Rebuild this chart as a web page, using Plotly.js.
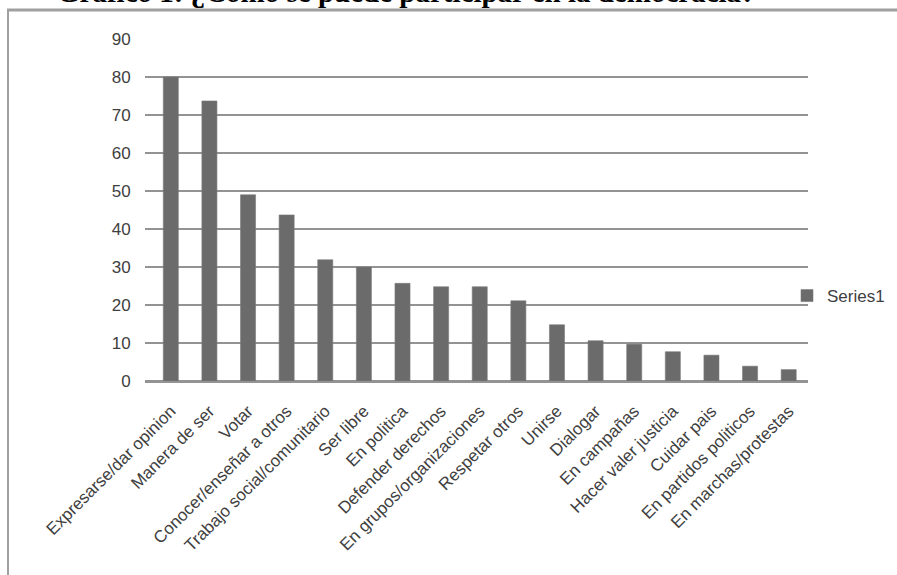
<!DOCTYPE html>
<html>
<head>
<meta charset="utf-8">
<script src="https://cdn.plot.ly/plotly-3.0.1.min.js"></script>
<style>html,body{margin:0;padding:0;background:#fff;}#chart{width:897px;height:575px;}</style>
</head>
<body>
<div id="chart"></div>
<script>
var categories = ["Expresarse/dar opinion","Manera de ser","Votar","Conocer/enseñar a otros","Trabajo social/comunitario","Ser libre","En politica","Defender derechos","En grupos/organizaciones","Respetar otros","Unirse","Dialogar","En campañas","Hacer valer justicia","Cuidar pais","En partidos politicos","En marchas/protestas"];
var series1 = [80, 73.7, 49, 43.7, 31.9, 30, 25.7, 24.8, 24.8, 21.1, 14.8, 10.6, 9.7, 7.7, 6.8, 3.9, 3.0];
var yTicks = [0,10,20,30,40,50,60,70,80,90];
var seriesName = "Series1";
var titleText = "Gráfico 1: ¿Cómo se puede participar en la democracia?";

var W = 897, H = 575, L = 145, R = 89, T = 39, B = 194;
var pw = W - L - R, ph = H - T - B;
function px(x){ return (x - L) / pw; }
function py(y){ return (H - B - y) / ph; }

var trace = {
  type: 'bar', x: categories, y: series1, name: seriesName,
  marker: {color: '#6b6b6b', line: {color: '#7a7a7a', width: 0.6}},
  showlegend: true
};

var layout = {
  width: W, height: H,
  margin: {l: L, r: R, t: T, b: B, pad: 0, autoexpand: false},
  paper_bgcolor: '#ffffff', plot_bgcolor: '#ffffff',
  bargap: 0.61,
  showlegend: true,
  legend: {x: px(787), y: py(296), xanchor: 'left', yanchor: 'middle',
    font: {family: 'Liberation Sans, Arial, sans-serif', size: 17, color: '#404040'},
    bgcolor: 'rgba(0,0,0,0)', borderwidth: 0},
  xaxis: {
    type: 'category', range: [-0.668, 16.5],
    tickangle: -45, ticks: 'outside', ticklen: 12, tickcolor: 'rgba(0,0,0,0)',
    tickfont: {family: 'Liberation Sans, Arial, sans-serif', size: 17, color: '#404040'},
    showline: true, linecolor: '#939393', linewidth: 1.5, showgrid: false, automargin: false
  },
  yaxis: {
    range: [0, 90], tickvals: yTicks, ticktext: yTicks.map(String),
    ticks: 'outside', ticklen: 10, tickcolor: 'rgba(0,0,0,0)',
    tickfont: {family: 'Liberation Sans, Arial, sans-serif', size: 17, color: '#404040'},
    showgrid: true, gridcolor: '#939393', gridwidth: 1.5,
    zeroline: true, zerolinecolor: '#939393', zerolinewidth: 1.5,
    showline: false, automargin: false
  },
  shapes: [
    {type: 'line', xref: 'paper', yref: 'paper', x0: px(7), x1: px(900), y0: py(10), y1: py(10),
     line: {color: '#a0a0a0', width: 3}},
    {type: 'line', xref: 'paper', yref: 'paper', x0: px(8), x1: px(8), y0: py(10), y1: py(580),
     line: {color: '#a0a0a0', width: 2}}
  ],
  annotations: [
    {text: '<b>' + titleText + '</b>', xref: 'paper', yref: 'paper', x: px(55), y: py(10),
     xanchor: 'left', yanchor: 'bottom', showarrow: false,
     font: {family: 'Liberation Serif, Times New Roman, serif', size: 29, color: '#000000'}}
  ]
};

Plotly.newPlot('chart', [trace], layout, {displayModeBar: false, staticPlot: true});
</script>
</body>
</html>
